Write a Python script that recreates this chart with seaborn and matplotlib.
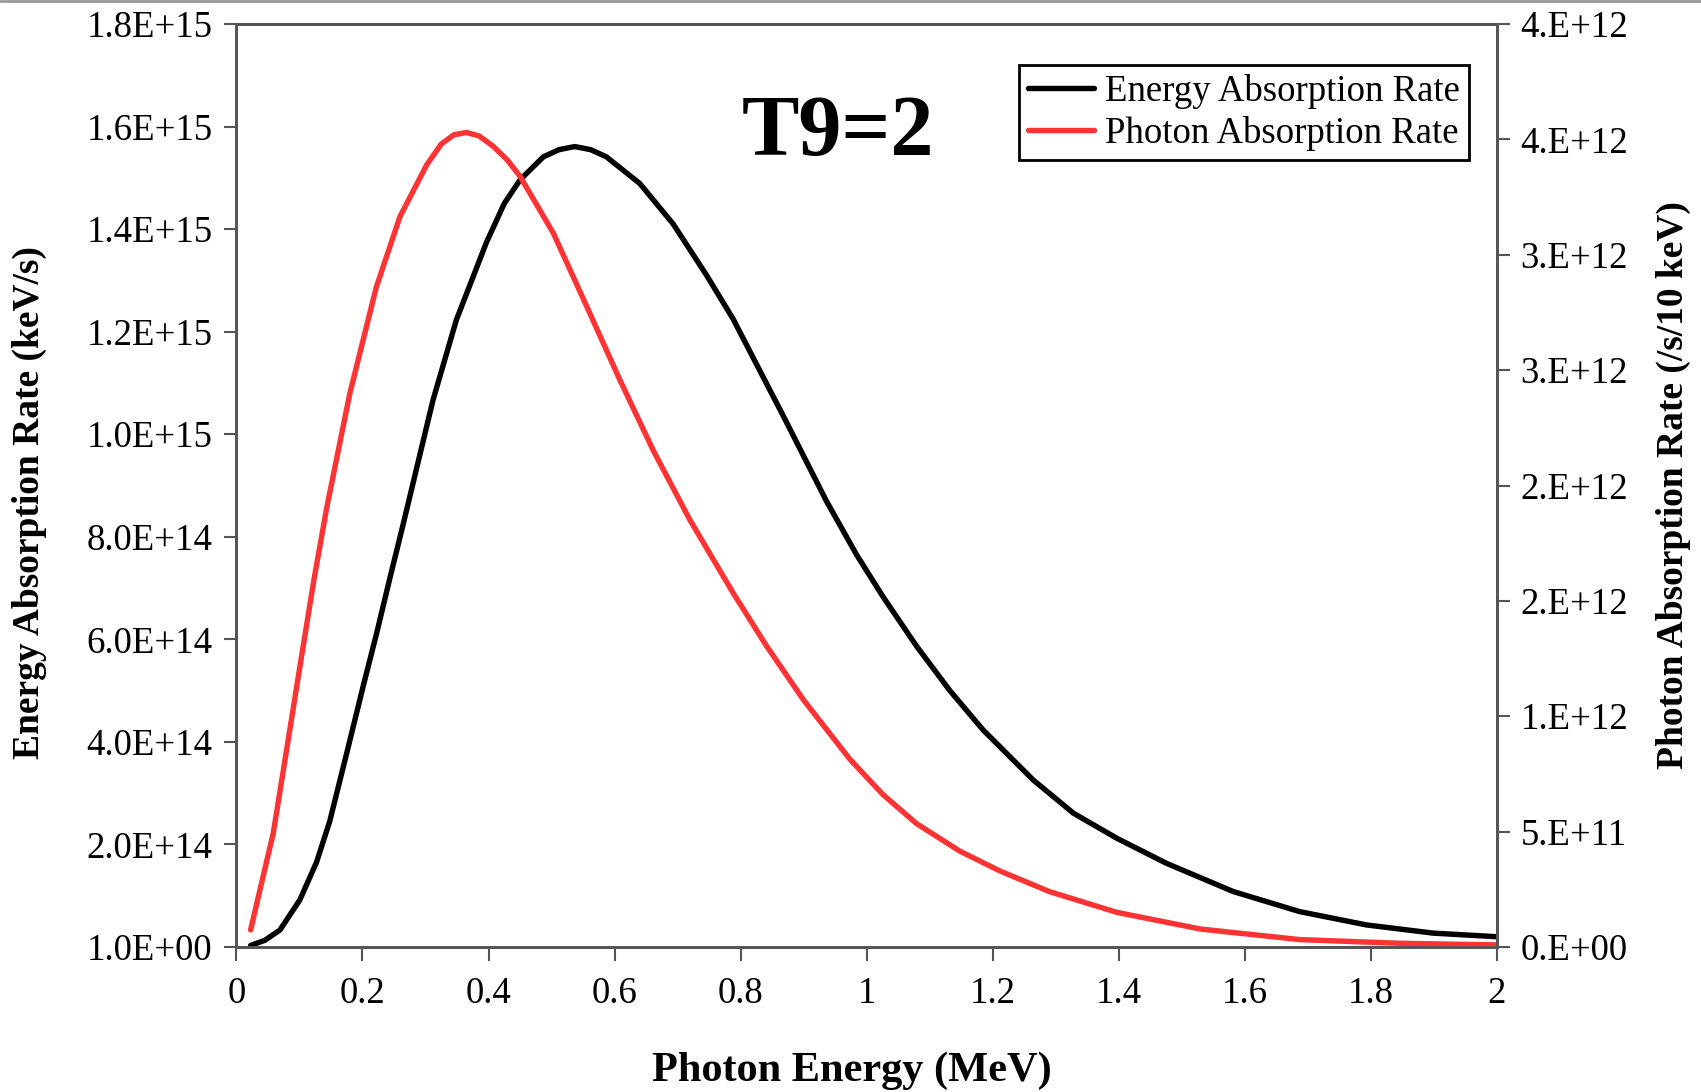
import matplotlib
matplotlib.use("Agg")
import matplotlib.pyplot as plt
from matplotlib.lines import Line2D
import seaborn as sns
import pandas as pd

# ---- data ----
energy_x = [0.0225, 0.045, 0.069, 0.1007, 0.127, 0.148, 0.175, 0.201, 0.2225, 0.2436,
            0.2637, 0.312, 0.349, 0.397, 0.425, 0.450, 0.487, 0.512, 0.537, 0.562,
            0.587, 0.640, 0.693, 0.746, 0.788, 0.868, 0.936, 0.984, 1.026, 1.079,
            1.132, 1.185, 1.264, 1.328, 1.397, 1.476, 1.582, 1.687, 1.793, 1.899, 2.0]
energy_y = [0.003, 0.013, 0.033, 0.092, 0.165, 0.245, 0.378, 0.508, 0.612, 0.720,
            0.820, 1.067, 1.223, 1.375, 1.450, 1.496, 1.541, 1.555, 1.561, 1.555,
            1.541, 1.489, 1.410, 1.310, 1.225, 1.035, 0.870, 0.765, 0.683, 0.587,
            0.500, 0.423, 0.326, 0.261, 0.212, 0.163, 0.108, 0.069, 0.043, 0.027,
            0.020]  # x 1e15 keV/s

photon_x = [0.0225, 0.0373, 0.0584, 0.0796, 0.1007, 0.122, 0.143, 0.180, 0.222, 0.2594,
            0.302, 0.325, 0.345, 0.365, 0.385, 0.4075, 0.430, 0.450, 0.503, 0.556,
            0.6085, 0.661, 0.7195, 0.788, 0.841, 0.900, 0.973, 1.026, 1.079, 1.148,
            1.211, 1.290, 1.397, 1.529, 1.687, 1.846, 2.0]
photon_y = [0.074, 0.247, 0.493, 0.854, 1.215, 1.576, 1.900, 2.400, 2.860, 3.165,
            3.390, 3.480, 3.520, 3.530, 3.515, 3.470, 3.410, 3.340, 3.093, 2.775,
            2.457, 2.154, 1.851, 1.535, 1.305, 1.070, 0.815, 0.660, 0.535, 0.415,
            0.330, 0.240, 0.150, 0.078, 0.032, 0.016, 0.009]  # x 1e12 /s/10 keV

x_ticks = [0, 0.2, 0.4, 0.6, 0.8, 1.0, 1.2, 1.4, 1.6, 1.8, 2.0]
x_ticklabels = ["0", "0.2", "0.4", "0.6", "0.8", "1", "1.2", "1.4", "1.6", "1.8", "2"]
left_ticks = [0, 2e14, 4e14, 6e14, 8e14, 1.0e15, 1.2e15, 1.4e15, 1.6e15, 1.8e15]
left_ticklabels = ["1.0E+00", "2.0E+14", "4.0E+14", "6.0E+14", "8.0E+14",
                   "1.0E+15", "1.2E+15", "1.4E+15", "1.6E+15", "1.8E+15"]
right_ticks = [0, 0.5e12, 1.0e12, 1.5e12, 2.0e12, 2.5e12, 3.0e12, 3.5e12, 4.0e12]
right_ticklabels = ["0.E+00", "5.E+11", "1.E+12", "2.E+12", "2.E+12",
                    "3.E+12", "3.E+12", "4.E+12", "4.E+12"]

series_labels = ["Energy Absorption Rate", "Photon Absorption Rate"]
title_text = "T9=2"

# ---- style ----
sns.set_theme(style="white")
plt.rcParams["font.family"] = ["Liberation Serif", "DejaVu Serif"]
plt.rcParams["text.color"] = "black"
plt.rcParams["axes.labelcolor"] = "black"
plt.rcParams["xtick.color"] = "black"
plt.rcParams["ytick.color"] = "black"

df_e = pd.DataFrame({"x": energy_x, "y": [v * 1e15 for v in energy_y]})
df_p = pd.DataFrame({"x": photon_x, "y": [v * 1e12 for v in photon_y]})

fig = plt.figure(figsize=(17.01, 10.92), dpi=100)
ax = fig.add_axes([0.139, 0.1328, 0.741, 0.8452])
ax2 = ax.twinx()

sns.lineplot(data=df_e, x="x", y="y", ax=ax, color="black", linewidth=3.9,
             label=series_labels[0], legend=False)
sns.lineplot(data=df_p, x="x", y="y", ax=ax2, color="#ff3333", linewidth=3.9,
             label=series_labels[1], legend=False)
for ln in ax.get_lines() + ax2.get_lines():
    ln.set_solid_joinstyle("round")
    ln.set_solid_capstyle("round")

ax.set_xlim(0, 2)
ax.set_ylim(0, 1.8e15)
ax2.set_ylim(0, 4e12)

ax.set_xticks(x_ticks)
ax.set_xticklabels(x_ticklabels)
ax.set_yticks(left_ticks)
ax.set_yticklabels(left_ticklabels)
ax2.set_yticks(right_ticks)
ax2.set_yticklabels(right_ticklabels)

spine_col = "#555555"
for a in (ax, ax2):
    for s in a.spines.values():
        s.set_visible(True)
        s.set_color(spine_col)
        s.set_linewidth(2)

ax.tick_params(axis="x", direction="out", length=10, width=1.5, color=spine_col,
               labelcolor="black", labelsize=26.5, pad=11, bottom=True)
ax.tick_params(axis="y", direction="out", length=9, width=1.5, color=spine_col,
               labelcolor="black", labelsize=26.5, pad=8, left=True)
ax2.tick_params(axis="y", direction="out", length=9, width=1.5, color=spine_col,
                labelcolor="black", labelsize=26.5, pad=8, right=True)

ax.set_xlabel("Photon Energy (MeV)", fontsize=30.5, fontweight="bold", color="black")
ax.set_ylabel("Energy Absorption Rate (keV/s)", fontsize=27, fontweight="bold",
              color="black")
ax2.set_ylabel("Photon Absorption Rate (/s/10 keV)", fontsize=27, fontweight="bold",
               rotation=90, color="black")
ax.xaxis.set_label_coords(0.488, -0.134)
ax.xaxis.label.set_va("center")
ax.yaxis.set_label_coords(-0.1646, 0.481)
ax.yaxis.label.set_va("center")
ax2.yaxis.set_label_coords(1.1404, 0.5005)
ax2.yaxis.label.set_va("center")

fig.text(838 / 1701, 1 - 134 / 1092, title_text, ha="center", va="center",
         fontsize=62, fontweight="bold", color="black")

handles = [ax.get_lines()[0], ax2.get_lines()[0]]
leg = ax2.legend(handles, series_labels, loc="upper right",
                 bbox_to_anchor=(0.978, 0.956), borderaxespad=0,
                 fontsize=26.5, frameon=True, fancybox=False, framealpha=1,
                 edgecolor="black", handlelength=1.8, handletextpad=0.3,
                 labelspacing=0.2, borderpad=0.25)
leg.get_frame().set_linewidth(2)
for t in leg.get_texts():
    t.set_color("black")

fig.add_artist(Line2D([0, 1], [0.999, 0.999], transform=fig.transFigure,
                      color="#999999", linewidth=2))

fig.savefig("out.png", dpi=100)
